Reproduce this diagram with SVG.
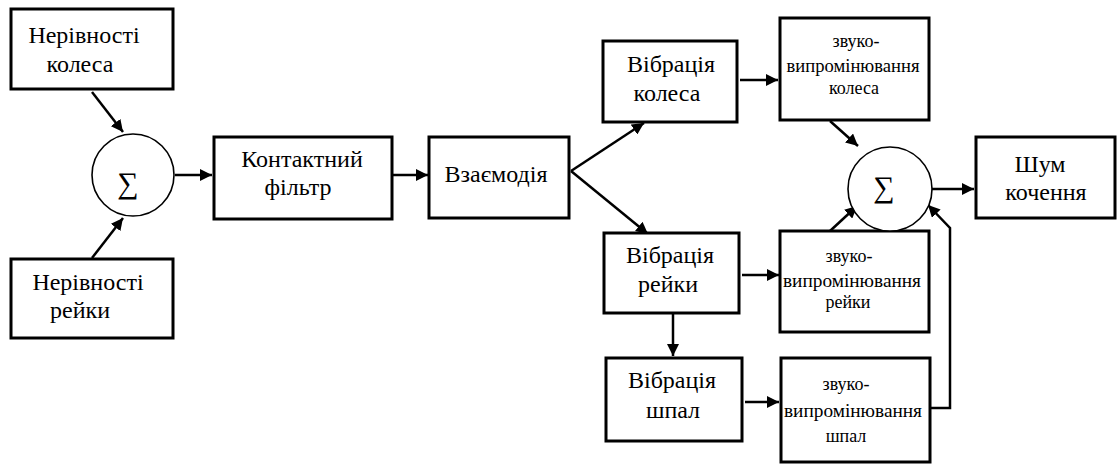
<svg xmlns="http://www.w3.org/2000/svg" width="1118" height="466" viewBox="0 0 1118 466">
<defs>
<marker id="ah" markerUnits="userSpaceOnUse" markerWidth="14" markerHeight="12" refX="12" refY="6" orient="auto">
<path d="M0,0 L12,6 L0,12 Z" fill="#000"/>
</marker>
</defs>
<g id="connectors" fill="none" stroke="#000" stroke-width="2.5">
<line x1="92" y1="92" x2="123" y2="132" marker-end="url(#ah)"/>
<line x1="92" y1="258" x2="123" y2="218" marker-end="url(#ah)"/>
<line x1="175" y1="175" x2="212" y2="175" marker-end="url(#ah)"/>
<line x1="393" y1="175" x2="428" y2="175" marker-end="url(#ah)"/>
<line x1="571" y1="171" x2="644" y2="123" marker-end="url(#ah)"/>
<line x1="571" y1="171" x2="648" y2="234" marker-end="url(#ah)"/>
<line x1="740" y1="80" x2="778" y2="80" marker-end="url(#ah)"/>
<line x1="742" y1="275" x2="779" y2="275" marker-end="url(#ah)"/>
<line x1="673" y1="314" x2="673" y2="356" marker-end="url(#ah)"/>
<line x1="745" y1="402" x2="779" y2="402" marker-end="url(#ah)"/>
<line x1="830" y1="121" x2="858" y2="146" marker-end="url(#ah)"/>
<line x1="830" y1="231" x2="857" y2="206" marker-end="url(#ah)"/>
<polyline points="930,408 950,408 950,228 928,205" marker-end="url(#ah)"/>
<line x1="932" y1="189" x2="974" y2="189" marker-end="url(#ah)"/>
</g>
<g id="n-wheel-irreg" font-family="Liberation Serif" font-size="24" text-anchor="middle">
<rect x="11" y="9" width="162" height="80" fill="#fff" stroke="#000" stroke-width="3"/>
<text x="84" y="43" font-family="Liberation Serif">Нерівності</text>
<text x="80" y="72" font-family="Liberation Serif">колеса</text>
</g>
<g id="n-rail-irreg" font-family="Liberation Serif" font-size="24" text-anchor="middle">
<rect x="11" y="259" width="162" height="79" fill="#fff" stroke="#000" stroke-width="3"/>
<text x="88" y="290" font-family="Liberation Serif">Нерівності</text>
<text x="80" y="318" font-family="Liberation Serif">рейки</text>
</g>
<g id="n-sum1" font-family="Liberation Serif" font-size="30" text-anchor="middle">
<circle cx="133" cy="175" r="41" fill="#fff" stroke="#000" stroke-width="1.6"/>
<text x="128" y="193" font-family="Liberation Serif">∑</text>
</g>
<g id="n-contact" font-family="Liberation Serif" font-size="24" text-anchor="middle">
<rect x="214" y="137" width="178" height="82" fill="#fff" stroke="#000" stroke-width="3"/>
<text x="302" y="167" font-family="Liberation Serif">Контактний</text>
<text x="298" y="195" font-family="Liberation Serif">фільтр</text>
</g>
<g id="n-interaction" font-family="Liberation Serif" font-size="24" text-anchor="middle">
<rect x="429" y="137" width="140" height="81" fill="#fff" stroke="#000" stroke-width="3"/>
<text x="496" y="182" font-family="Liberation Serif">Взаємодія</text>
</g>
<g id="n-vib-wheel" font-family="Liberation Serif" font-size="24" text-anchor="middle">
<rect x="603" y="41" width="134" height="81" fill="#fff" stroke="#000" stroke-width="3"/>
<text x="671" y="72" font-family="Liberation Serif">Вібрація</text>
<text x="667" y="101" font-family="Liberation Serif">колеса</text>
</g>
<g id="n-vib-rail" font-family="Liberation Serif" font-size="24" text-anchor="middle">
<rect x="604" y="233" width="135" height="80" fill="#fff" stroke="#000" stroke-width="3"/>
<text x="670" y="263" font-family="Liberation Serif">Вібрація</text>
<text x="668" y="292" font-family="Liberation Serif">рейки</text>
</g>
<g id="n-vib-sleeper" font-family="Liberation Serif" font-size="24" text-anchor="middle">
<rect x="606" y="358" width="136" height="83" fill="#fff" stroke="#000" stroke-width="3"/>
<text x="672" y="388" font-family="Liberation Serif">Вібрація</text>
<text x="673" y="418" font-family="Liberation Serif">шпал</text>
</g>
<g id="n-snd-wheel" font-family="Liberation Serif" font-size="18" text-anchor="middle">
<rect x="780" y="18" width="149" height="102" fill="#fff" stroke="#000" stroke-width="3"/>
<text x="856" y="47" font-family="Liberation Serif">звуко-</text>
<text x="853" y="72" font-family="Liberation Serif" textLength="133" lengthAdjust="spacingAndGlyphs">випромінювання</text>
<text x="854" y="94" font-family="Liberation Serif">колеса</text>
</g>
<g id="n-snd-rail" font-family="Liberation Serif" font-size="18" text-anchor="middle">
<rect x="780" y="231" width="149" height="101" fill="#fff" stroke="#000" stroke-width="3"/>
<text x="849" y="262" font-family="Liberation Serif">звуко-</text>
<text x="852" y="287" font-family="Liberation Serif" textLength="138" lengthAdjust="spacingAndGlyphs">випромінювання</text>
<text x="848" y="308" font-family="Liberation Serif">рейки</text>
</g>
<g id="n-snd-sleeper" font-family="Liberation Serif" font-size="18" text-anchor="middle">
<rect x="781" y="358" width="149" height="104" fill="#fff" stroke="#000" stroke-width="3"/>
<text x="846" y="390" font-family="Liberation Serif">звуко-</text>
<text x="853" y="417" font-family="Liberation Serif" textLength="138" lengthAdjust="spacingAndGlyphs">випромінювання</text>
<text x="846" y="442" font-family="Liberation Serif">шпал</text>
</g>
<g id="n-sum2" font-family="Liberation Serif" font-size="30" text-anchor="middle">
<circle cx="890" cy="189" r="42" fill="#fff" stroke="#000" stroke-width="1.6"/>
<text x="884" y="197" font-family="Liberation Serif">∑</text>
</g>
<g id="n-noise" font-family="Liberation Serif" font-size="24" text-anchor="middle">
<rect x="976" y="137" width="139" height="81" fill="#fff" stroke="#000" stroke-width="3"/>
<text x="1040" y="172" font-family="Liberation Serif">Шум</text>
<text x="1046" y="200" font-family="Liberation Serif">кочення</text>
</g>
</svg>
